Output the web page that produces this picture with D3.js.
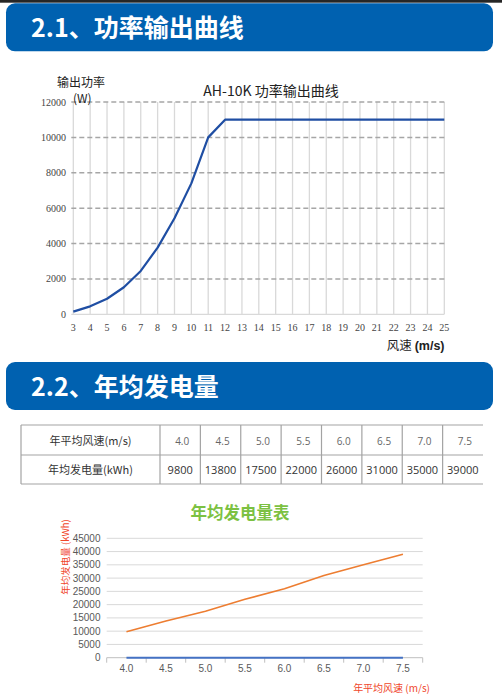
<!DOCTYPE html>
<html><head><meta charset="utf-8">
<script src="https://cdn.jsdelivr.net/npm/d3@7/dist/d3.min.js"></script>
<style>
html,body{margin:0;padding:0;background:#fff;}
svg{display:block;}
</style></head>
<body>
<script>
// ---- Data ----
const powerWindSpeed = [3,4,5,6,7,8,9,10,11,12,13,14,15,16,17,18,19,20,21,22,23,24,25];
const powerOutput = [150,450,880,1530,2450,3770,5430,7400,10000,11000,11000,11000,11000,11000,11000,11000,11000,11000,11000,11000,11000,11000,11000];
const powerYTicks = [0,2000,4000,6000,8000,10000,12000];

const tableSpeeds = ["4.0","4.5","5.0","5.5","6.0","6.5","7.0","7.5"];
const speedValues = [4.0,4.5,5.0,5.5,6.0,6.5,7.0,7.5];
const annualEnergy = [9800,13800,17500,22000,26000,31000,35000,39000];
const energyYTicks = [0,5000,10000,15000,20000,25000,30000,35000,40000,45000];

const W = 502, H = 700;
const cjk = "'Noto Sans CJK SC','Noto Sans',sans-serif";
const svg = d3.select("body").append("svg").attr("width", W).attr("height", H);

// top dark strip
svg.append("rect").attr("x",0).attr("y",0).attr("width",W).attr("height",2.7).attr("fill","#262626");

function header(y, text){
  svg.append("rect").attr("x",6).attr("y",y).attr("width",487).attr("height",48).attr("rx",9).attr("fill","#0061b0");
  svg.append("text").attr("x",31).attr("y",y+33.5).attr("fill","#fff")
    .attr("font-family",cjk).attr("font-weight","bold").attr("font-size",25).text(text);
}
header(3.3, "2.1、功率输出曲线");
header(362, "2.2、年均发电量");

// ---- Chart 1: power curve ----
const x1 = d3.scaleLinear().domain([3,25]).range([73.3,444.3]);
const y1 = d3.scaleLinear().domain([0,12000]).range([314.3,102]);
const g1 = svg.append("g");
// vertical grid
g1.selectAll("line.v").data(powerWindSpeed).join("line")
  .attr("x1",d=>x1(d)).attr("x2",d=>x1(d)).attr("y1",y1(12000)).attr("y2",y1(0))
  .attr("stroke","#d9d9d9").attr("stroke-width",1.3);
// horizontal baseline
g1.append("line").attr("x1",x1(3)-2).attr("x2",x1(25)).attr("y1",y1(0)).attr("y2",y1(0))
  .attr("stroke","#d9d9d9").attr("stroke-width",1.3);
// horizontal dashed grid
g1.selectAll("line.h").data(powerYTicks.filter(d=>d>0)).join("line")
  .attr("x1",x1(3)-2).attr("x2",x1(25)).attr("y1",d=>y1(d)).attr("y2",d=>y1(d))
  .attr("stroke","#a6a6a6").attr("stroke-width",1.5).attr("stroke-dasharray","5,3");
// y tick labels
g1.selectAll("text.yt").data(powerYTicks).join("text")
  .attr("x",66).attr("y",d=>y1(d)+3.5).attr("text-anchor","end")
  .attr("font-family","'Liberation Serif','DejaVu Serif',serif").attr("font-size",10).attr("fill","#444")
  .text(d=>d);
// x tick labels
g1.selectAll("text.xt").data(powerWindSpeed).join("text")
  .attr("x",d=>x1(d)).attr("y",330.5).attr("text-anchor","middle")
  .attr("font-family","'Liberation Serif','DejaVu Serif',serif").attr("font-size",10).attr("fill","#444")
  .text(d=>d);
// line
g1.append("path").datum(powerWindSpeed.map((d,i)=>[d,powerOutput[i]]))
  .attr("d", d3.line().x(d=>x1(d[0])).y(d=>y1(d[1])))
  .attr("fill","none").attr("stroke","#1f4ea3").attr("stroke-width",2.2).attr("stroke-linejoin","round");
// titles
svg.append("text").attr("x",271).attr("y",95.5).attr("text-anchor","middle")
  .attr("font-family",cjk).attr("font-size",14).attr("fill","#222").text("AH-10K 功率输出曲线");
svg.append("text").attr("x",57).attr("y",87).attr("font-family",cjk).attr("font-size",12).attr("fill","#222").text("输出功率");
svg.append("text").attr("x",73).attr("y",103).attr("font-family",cjk).attr("font-size",12).attr("fill","#222").text("(W)");
const xl = svg.append("text").attr("x",444.5).attr("y",350).attr("text-anchor","end")
  .attr("font-family",cjk).attr("font-size",12.5).attr("fill","#222");
xl.append("tspan").text("风速 ");
xl.append("tspan").attr("font-weight","bold").attr("font-family","'Liberation Sans',Arial,sans-serif").text("(m/s)");

// ---- Table ----
const tL = 21, tR = 483, tTop = 425, tMid = 455, tBot = 484, firstColR = 160;
const colX = d3.scaleBand().domain(tableSpeeds).range([firstColR, tR]);
const gt = svg.append("g");
const border = "#a3a3a3";
[tTop,tMid,tBot].forEach(y=>gt.append("line").attr("x1",tL).attr("x2",tR).attr("y1",y).attr("y2",y).attr("stroke",border).attr("stroke-width",1.2));
gt.append("line").attr("x1",tL).attr("x2",tL).attr("y1",tTop).attr("y2",tBot).attr("stroke",border).attr("stroke-width",1.2);
gt.selectAll("line.c").data(tableSpeeds).join("line")
  .attr("x1",d=>colX(d)).attr("x2",d=>colX(d)).attr("y1",tTop).attr("y2",tBot)
  .attr("stroke",border).attr("stroke-width",1.2);
gt.append("text").attr("x",(tL+firstColR)/2).attr("y",444.5).attr("text-anchor","middle")
  .attr("font-family",cjk).attr("font-size",11).attr("fill","#333").text("年平均风速(m/s)");
gt.append("text").attr("x",(tL+firstColR)/2).attr("y",473.5).attr("text-anchor","middle")
  .attr("font-family",cjk).attr("font-size",11).attr("fill","#333").text("年均发电量(kWh)");
gt.selectAll("text.s").data(tableSpeeds).join("text")
  .attr("x",d=>colX(d)+colX.bandwidth()/2+2).attr("y",444.5).attr("text-anchor","middle")
  .attr("font-family","'Open Sans','Noto Sans',sans-serif").attr("font-size",10).attr("fill","#666").text(d=>d);
gt.selectAll("text.e").data(annualEnergy).join("text")
  .attr("x",(d,i)=>colX(tableSpeeds[i])+colX.bandwidth()/2).attr("y",474).attr("text-anchor","middle")
  .attr("font-family","'Open Sans','Noto Sans',sans-serif").attr("font-size",11).attr("fill","#333").text(d=>d);

// ---- Chart 2: annual energy ----
const x2 = d3.scaleBand().domain(tableSpeeds).range([106.7,422.7]);
const y2 = d3.scaleLinear().domain([0,45000]).range([657.7,538.3]);
const g2 = svg.append("g");
g2.selectAll("line.g").data(energyYTicks.filter(d=>d>0)).join("line")
  .attr("x1",106.7).attr("x2",422.7).attr("y1",d=>y2(d)).attr("y2",d=>y2(d))
  .attr("stroke","#d9d9d9").attr("stroke-width",1);
g2.append("line").attr("x1",106.7).attr("x2",422.7).attr("y1",y2(0)).attr("y2",y2(0))
  .attr("stroke","#bfbfbf").attr("stroke-width",1);
const bounds = tableSpeeds.map(d=>x2(d)).concat([422.7]);
g2.selectAll("line.tk").data(bounds).join("line")
  .attr("x1",d=>d).attr("x2",d=>d).attr("y1",y2(0)).attr("y2",y2(0)+5)
  .attr("stroke","#bfbfbf").attr("stroke-width",1);
g2.selectAll("text.yt").data(energyYTicks).join("text")
  .attr("x",100.5).attr("y",d=>y2(d)+3.5).attr("text-anchor","end")
  .attr("font-family","'Liberation Sans',Arial,sans-serif").attr("font-size",10).attr("fill","#595959").text(d=>d);
g2.selectAll("text.xt").data(tableSpeeds).join("text")
  .attr("x",d=>x2(d)+x2.bandwidth()/2).attr("y",671.5).attr("text-anchor","middle")
  .attr("font-family","'Liberation Sans',Arial,sans-serif").attr("font-size",10).attr("fill","#595959").text(d=>d);
const line2 = d3.line().x(d=>x2(d[0])+x2.bandwidth()/2).y(d=>y2(d[1]));
g2.append("path").datum(tableSpeeds.map((d,i)=>[d,speedValues[i]]))
  .attr("d",line2).attr("fill","none").attr("stroke","#4472c4").attr("stroke-width",2);
g2.append("path").datum(tableSpeeds.map((d,i)=>[d,annualEnergy[i]]))
  .attr("d",line2).attr("fill","none").attr("stroke","#ed7d31").attr("stroke-width",1.6);
svg.append("text").attr("x",240).attr("y",519).attr("text-anchor","middle")
  .attr("font-family",cjk).attr("font-weight","bold").attr("font-size",16.5).attr("fill","#7cc142").text("年均发电量表");
svg.append("text").attr("transform","translate(68.5,557) rotate(-90)").attr("text-anchor","middle")
  .attr("font-family",cjk).attr("font-size",9.5).attr("fill","#f0462a").text("年均发电量 (kWh)");
svg.append("text").attr("x",430).attr("y",691.5).attr("text-anchor","end")
  .attr("font-family",cjk).attr("font-size",10).attr("fill","#f0462a").text("年平均风速 (m/s)");
</script>
</body></html>
